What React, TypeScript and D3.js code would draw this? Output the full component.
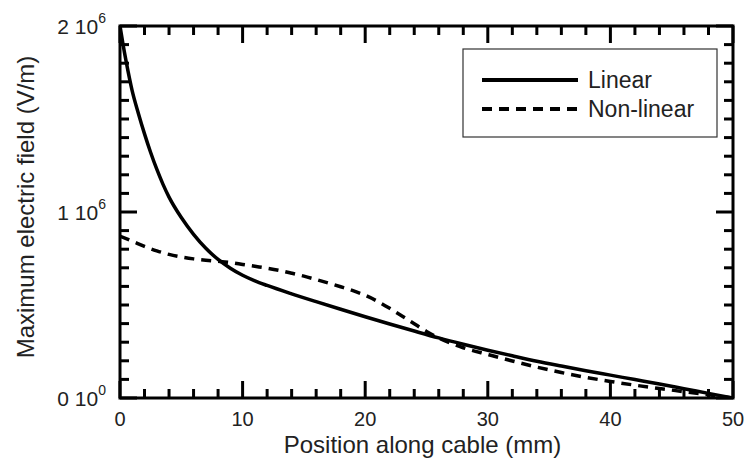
import React from "react";
import * as d3 from "d3";

const linearX = [0, 0.25, 0.5, 1, 1.5, 2, 2.5, 3, 3.5, 4, 5, 6, 7, 8, 9, 10, 11, 12, 14, 16, 18, 20, 22, 24, 26, 28, 30, 32, 34, 36, 38, 40, 42, 44, 46, 48, 50];
const linearY = [2.0, 1.9, 1.81, 1.65, 1.53, 1.42, 1.32, 1.23, 1.15, 1.08, 0.97, 0.88, 0.805, 0.745, 0.698, 0.66, 0.63, 0.605, 0.56, 0.518, 0.477, 0.437, 0.398, 0.36, 0.323, 0.289, 0.257, 0.227, 0.198, 0.172, 0.147, 0.123, 0.099, 0.075, 0.05, 0.025, 0.0];

const nonlinearX = [0, 1, 2, 3, 4, 5, 6, 7, 8, 9, 10, 11, 12, 13, 14, 15, 16, 17, 18, 19, 20, 21, 22, 23, 24, 25, 26, 27, 28, 30, 32, 34, 36, 38, 40, 42, 44, 46, 48, 50];
const nonlinearY = [0.87, 0.843, 0.815, 0.791, 0.772, 0.758, 0.748, 0.741, 0.735, 0.728, 0.718, 0.708, 0.698, 0.686, 0.671, 0.655, 0.637, 0.618, 0.598, 0.577, 0.552, 0.52, 0.482, 0.441, 0.399, 0.358, 0.323, 0.294, 0.27, 0.234, 0.199, 0.166, 0.137, 0.111, 0.089, 0.069, 0.051, 0.034, 0.017, 0.0];

const xTicks = [0, 10, 20, 30, 40, 50];
const yTicks = [0, 1, 2];
const yTickLabels = [["0 10", "0"], ["1 10", "6"], ["2 10", "6"]];
const seriesNames = ["Linear", "Non-linear"];

export default function App() {
  const W = 746, H = 461;
  const L = 120, R = 733, T = 26, B = 398;
  const x = d3.scaleLinear().domain([0, 50]).range([L, R]);
  const y = d3.scaleLinear().domain([0, 2]).range([B, T]);
  const line = d3.line<[number, number]>().x(d => x(d[0])).y(d => y(d[1])).curve(d3.curveMonotoneX);
  const lin: [number, number][] = linearX.map((v, i) => [v, linearY[i]]);
  const non: [number, number][] = nonlinearX.map((v, i) => [v, nonlinearY[i]]);
  const xMinor = d3.range(0, 50.001, 2);
  const yMinor = d3.range(0, 2.0001, 0.1);
  const font = "'Liberation Sans', Arial, sans-serif";
  const col = "#000";
  const txt = "#222";
  return (
    <svg width={W} height={H} style={{ position: "absolute", left: 0, top: 0, background: "#fff" }} fontFamily={font}>
      <defs>
        <clipPath id="plot"><rect x={L} y={T} width={R - L} height={B - T} /></clipPath>
      </defs>
      <g stroke={col} strokeWidth={3}>
        {xMinor.map(v => {
          const major = Math.abs(v % 10) < 1e-6;
          const len = major ? 17 : 9;
          return (
            <g key={"xt" + v}>
              <line x1={x(v)} x2={x(v)} y1={B} y2={B - len} />
              <line x1={x(v)} x2={x(v)} y1={T} y2={T + len} />
            </g>
          );
        })}
        {yMinor.map(v => {
          const major = Math.abs(v - Math.round(v)) < 1e-6;
          const len = major ? 17 : 9;
          return (
            <g key={"yt" + v}>
              <line x1={L} x2={L + len} y1={y(v)} y2={y(v)} />
              <line x1={R} x2={R - len} y1={y(v)} y2={y(v)} />
            </g>
          );
        })}
      </g>
      <rect x={L} y={T} width={R - L} height={B - T} fill="none" stroke={col} strokeWidth={3} />
      <g clipPath="url(#plot)" fill="none" stroke={col} strokeWidth={3.5}>
        <path d={line(lin) || ""} />
        <path d={line(non) || ""} strokeDasharray="10,7" />
      </g>
      <rect x={463} y={49} width={254} height={88} fill="#fff" stroke="#333" strokeWidth={1.2} />
      <line x1={482} x2={578} y1={80} y2={80} stroke={col} strokeWidth={4} />
      <line x1={482} x2={578} y1={109} y2={109} stroke={col} strokeWidth={4} strokeDasharray="10,7" />
      <text x={588} y={88} fontSize={23} fill={txt}>{seriesNames[0]}</text>
      <text x={588} y={117} fontSize={23} fill={txt}>{seriesNames[1]}</text>
      {xTicks.map(v => (
        <text key={"xl" + v} x={x(v)} y={426} fontSize={20} textAnchor="middle" fill={txt}>{v}</text>
      ))}
      {yTicks.map((v, i) => (
        <text key={"yl" + v} x={106} y={y(v) + 7.5} fontSize={21} textAnchor="end" fill={txt}>
          <tspan>{yTickLabels[i][0]}</tspan>
          <tspan dy={-11} fontSize={14}>{yTickLabels[i][1]}</tspan>
        </text>
      ))}
      <text x={(L + R) / 2 - 4} y={453} fontSize={24} textAnchor="middle" fill={txt}>Position along cable (mm)</text>
      <text transform={`translate(34,207) rotate(-90)`} fontSize={24} textAnchor="middle" fill={txt}>Maximum electric field (V/m)</text>
    </svg>
  );
}
